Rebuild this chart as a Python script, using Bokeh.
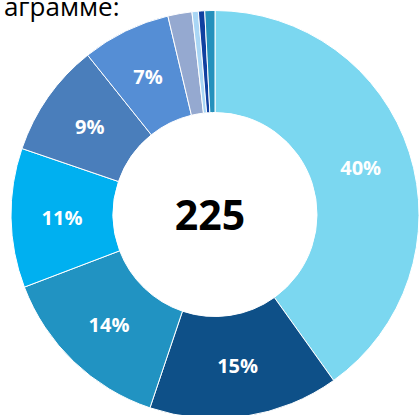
import math
from bokeh.plotting import figure
from bokeh.models import Range1d, ColumnDataSource
from bokeh.core.properties import value
from bokeh.embed import file_html
from bokeh.resources import INLINE

# ---- data ----
shares = [40, 15, 14, 11, 9, 7, 1.9, 0.5, 0.5, 0.8]
labels = ["40%", "15%", "14%", "11%", "9%", "7%", "", "", "", ""]
colors = ["#7BD7F0", "#0E5088", "#2193C2", "#00B0F0", "#4A7EBB",
          "#558ED5", "#95A9D0", "#A9D6F5", "#1040A0", "#2590BC"]
center_label = "225"
caption = "аграмме:"

W, H = 420, 415


def fx(px):
    return px


def fy(py):
    return H - py


cx, cy = fx(214.5), fy(214)
R_out, R_in = 204, 102

total = sum(shares)
starts, ends, lx, ly = [], [], [], []
acc = 0.0
for s in shares:
    a0 = math.pi / 2 - 2 * math.pi * acc / total
    acc += s
    a1 = math.pi / 2 - 2 * math.pi * acc / total
    starts.append(a1)
    ends.append(a0)
    mid = (a0 + a1) / 2
    rm = (R_out + R_in) / 2
    lx.append(cx + rm * math.cos(mid))
    ly.append(cy + rm * math.sin(mid))

src = ColumnDataSource(dict(start=starts, end=ends, color=colors,
                            label=labels, lx=lx, ly=ly))

p = figure(width=W, height=H, output_backend="svg", toolbar_location=None,
           x_range=Range1d(0, W), y_range=Range1d(0, H),
           x_axis_location=None, y_axis_location=None, min_border=0)
p.grid.visible = False
p.outline_line_color = None
p.background_fill_color = "white"

p.annular_wedge(x=cx, y=cy, inner_radius=R_in, outer_radius=R_out,
                start_angle="start", end_angle="end", direction="anticlock",
                fill_color="color", line_color="white", line_width=1,
                source=src)

p.text(x="lx", y="ly", text="label", source=src, text_color="white",
       text_font=value("Open Sans"), text_font_style="bold",
       text_font_size="20px", text_align="center", text_baseline="middle")

p.text(x=[cx - 5], y=[cy], text=[center_label], text_color="black",
       text_font=value("Open Sans"), text_font_style="bold",
       text_font_size="41px", text_align="center", text_baseline="middle")

p.text(x=[fx(119)], y=[fy(5)], text=[caption], text_color="black",
       text_font=value("Open Sans"), text_font_size="26px",
       text_align="right", text_baseline="alphabetic")

open("out.html", "w").write(file_html(p, INLINE))
